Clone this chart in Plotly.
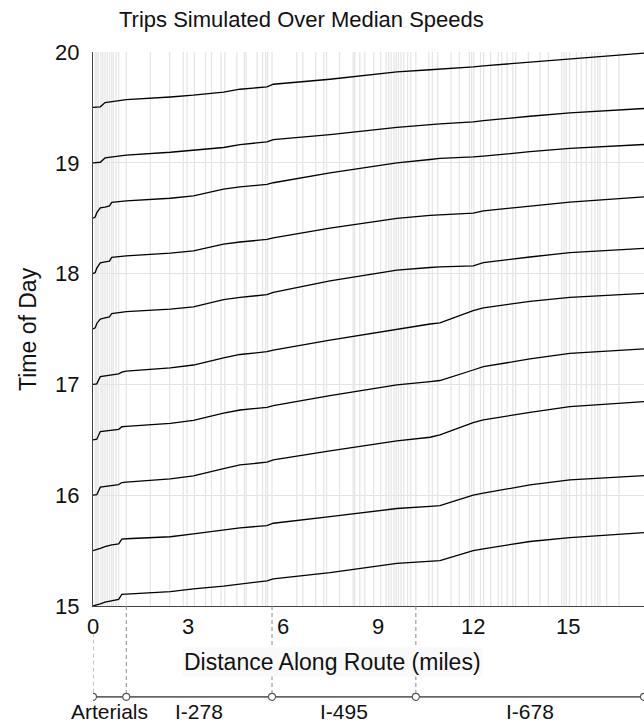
import plotly.graph_objects as go

# ---------------- data ----------------
DIST = [0, 0.07, 0.12, 0.23, 0.38, 0.52, 0.59, 0.81, 0.91, 1.05, 2.44, 3.17, 4.12,
        4.64, 5.49, 5.69, 7.48, 9.59, 10.64, 10.95, 12.0, 12.32, 13.79, 15.05, 17.39]

TRIP_1930 = [19.50, 19.50, 19.502, 19.505, 19.544, 19.55, 19.553, 19.56, 19.565, 19.571, 19.594, 19.61, 19.638,
             19.664, 19.685, 19.709, 19.754, 19.82, 19.84, 19.845, 19.865, 19.875, 19.907, 19.936, 19.99]
TRIP_1900 = [19.0, 19.0, 19.002, 19.005, 19.044, 19.05, 19.053, 19.06, 19.064, 19.069, 19.095, 19.114, 19.138,
             19.165, 19.188, 19.21, 19.255, 19.32, 19.345, 19.352, 19.369, 19.38, 19.42, 19.45, 19.49]
TRIP_1830 = [18.5, 18.51, 18.55, 18.593, 18.60, 18.611, 18.642, 18.648, 18.652, 18.656, 18.68, 18.701, 18.762,
             18.782, 18.805, 18.82, 18.909, 18.999, 19.03, 19.04, 19.053, 19.06, 19.10, 19.13, 19.165]
TRIP_1800 = [18.0, 18.01, 18.05, 18.097, 18.105, 18.113, 18.146, 18.152, 18.156, 18.16, 18.185, 18.206, 18.266,
             18.285, 18.308, 18.322, 18.41, 18.498, 18.525, 18.53, 18.545, 18.566, 18.61, 18.645, 18.693]
TRIP_1730 = [17.5, 17.51, 17.55, 17.59, 17.60, 17.61, 17.64, 17.648, 17.652, 17.657, 17.68, 17.70, 17.765,
             17.785, 17.81, 17.83, 17.935, 18.032, 18.055, 18.06, 18.07, 18.10, 18.15, 18.19, 18.227]
TRIP_1700 = [17.0, 17.0, 17.005, 17.07, 17.075, 17.08, 17.085, 17.095, 17.11, 17.12, 17.15, 17.175, 17.24,
             17.27, 17.295, 17.31, 17.40, 17.50, 17.545, 17.555, 17.665, 17.69, 17.75, 17.785, 17.822]
TRIP_1630 = [16.5, 16.5, 16.505, 16.574, 16.578, 16.583, 16.587, 16.595, 16.618, 16.622, 16.649, 16.675, 16.74,
             16.769, 16.793, 16.808, 16.898, 16.995, 17.025, 17.035, 17.13, 17.16, 17.23, 17.28, 17.32]
TRIP_1600 = [16.0, 16.0, 16.005, 16.073, 16.078, 16.083, 16.087, 16.096, 16.114, 16.118, 16.147, 16.174, 16.24,
             16.273, 16.298, 16.318, 16.40, 16.49, 16.523, 16.544, 16.655, 16.68, 16.748, 16.799, 16.844]
TRIP_1530 = [15.5, 15.505, 15.51, 15.52, 15.535, 15.545, 15.552, 15.56, 15.604, 15.607, 15.625, 15.651, 15.69,
             15.705, 15.726, 15.747, 15.807, 15.88, 15.90, 15.906, 16.0, 16.018, 16.093, 16.138, 16.177]
TRIP_1500 = [15.0, 15.005, 15.01, 15.02, 15.035, 15.045, 15.05, 15.06, 15.105, 15.108, 15.13, 15.155, 15.18,
             15.20, 15.227, 15.245, 15.302, 15.385, 15.405, 15.41, 15.50, 15.516, 15.582, 15.618, 15.663]

TRIPS = [TRIP_1500, TRIP_1530, TRIP_1600, TRIP_1630, TRIP_1700,
         TRIP_1730, TRIP_1800, TRIP_1830, TRIP_1900, TRIP_1930]

# road-segment boundaries (miles)
SEGMENTS = [0.07, 0.12, 0.17, 0.25, 0.31, 0.38, 0.45, 0.52, 0.59, 0.64, 0.73, 0.81, 1.05,
            1.81, 2.42, 2.85, 2.97, 3.20, 3.55, 3.74, 4.04, 4.16, 4.54, 4.78, 4.83, 5.18,
            5.35, 5.45, 5.51, 5.65, 6.43, 6.62, 7.03, 7.28, 7.37, 7.78, 8.21, 8.26, 8.42,
            8.58, 8.86, 9.08, 9.25, 9.33, 9.41, 9.50, 9.57, 9.64, 9.72, 9.81, 9.93, 10.03,
            10.19, 10.60, 10.71, 10.88, 11.30, 11.56, 11.88, 11.95, 12.02, 12.23, 12.33,
            12.55, 12.79, 12.90, 13.07, 13.25, 13.34, 13.74, 14.11, 14.37, 14.79, 14.87,
            14.94, 15.04, 15.26, 15.41, 15.57, 15.74, 15.84, 15.93, 16.00, 16.21, 16.60]

ROUTE_BOUNDS = [0, 1.05, 5.65, 10.19, 17.39]
ROUTE_NAMES = ["Arterials", "I-278", "I-495", "I-678"]

X_TICKS = [0, 3, 6, 9, 12, 15]
Y_TICKS = [15, 16, 17, 18, 19, 20]

FONT = "Liberation Sans, Arial, Helvetica, sans-serif"

# ---------------- figure ----------------
fig = go.Figure()

sx, sy = [], []
for s in SEGMENTS:
    sx += [s, s, None]
    sy += [Y_TICKS[0], Y_TICKS[-1], None]
fig.add_trace(go.Scatter(x=sx, y=sy, mode="lines",
                         line=dict(color="#e6e6e6", width=1.3),
                         hoverinfo="skip", showlegend=False))

for t in TRIPS:
    fig.add_trace(go.Scatter(x=DIST, y=t, mode="lines",
                             line=dict(color="black", width=1.3),
                             showlegend=False))

xmax = ROUTE_BOUNDS[-1]
route_y = -0.164
shapes = []
for b in ROUTE_BOUNDS[:-1]:
    y_top = -0.048 if b == 0 else 0
    shapes.append(dict(type="line", xref="x", yref="paper", x0=b, x1=b,
                       y0=y_top, y1=route_y, line=dict(color="#8a8a8a", width=1, dash="4px,3px"),
                       layer="above"))
shapes.append(dict(type="line", xref="x", yref="paper", x0=0, x1=xmax,
                   y0=route_y, y1=route_y, line=dict(color="#666666", width=1.6)))
for b in ROUTE_BOUNDS:
    shapes.append(dict(type="circle", xref="x", yref="paper",
                       xsizemode="pixel", ysizemode="pixel",
                       xanchor=b, yanchor=route_y, x0=-3.5, x1=3.5, y0=-3.5, y1=3.5,
                       line=dict(color="#555555", width=1.1), fillcolor="white"))

annotations = []
for i, name in enumerate(ROUTE_NAMES):
    annotations.append(dict(x=(ROUTE_BOUNDS[i] + ROUTE_BOUNDS[i + 1]) / 2, y=-0.191,
                            xref="x", yref="paper", text=name, showarrow=False,
                            font=dict(size=21, color="#111", family=FONT),
                            xanchor="center", yanchor="middle"))
annotations.append(dict(x=0.434, y=-0.101, xref="paper", yref="paper",
                        text="Distance Along Route (miles)", showarrow=False,
                        font=dict(size=23, color="#111", family=FONT),
                        xanchor="center", yanchor="middle", bgcolor="#f9f9f9"))
annotations.append(dict(x=-0.118, y=0.5, xref="paper", yref="paper",
                        text="Time of Day", showarrow=False, textangle=-90,
                        font=dict(size=23, color="#111", family=FONT),
                        xanchor="center", yanchor="middle"))
annotations.append(dict(x=0.3775, y=1.058, xref="paper", yref="paper",
                        text="Trips Simulated Over Median Speeds", showarrow=False,
                        font=dict(size=22, color="#111", family=FONT),
                        xanchor="center", yanchor="middle"))

fig.update_layout(
    width=644, height=723,
    margin=dict(l=93, r=0, t=52, b=117),
    paper_bgcolor="white", plot_bgcolor="white",
    font=dict(family=FONT, color="#111"),
    shapes=shapes, annotations=annotations,
    xaxis=dict(range=[0, xmax], tickvals=X_TICKS, showgrid=False, zeroline=False,
               showline=True, linecolor="#444", linewidth=1.3, ticks="",
               tickfont=dict(size=22, family=FONT, color="#111")),
    yaxis=dict(range=[Y_TICKS[0], Y_TICKS[-1]], tickvals=Y_TICKS, showgrid=True,
               gridcolor="#e3e3e3", gridwidth=1, zeroline=False,
               showline=True, linecolor="#444", linewidth=1.3, ticks="",
               ticklabelstandoff=8,
               tickfont=dict(size=22, family=FONT, color="#111")),
)

fig.write_html("out.html")
